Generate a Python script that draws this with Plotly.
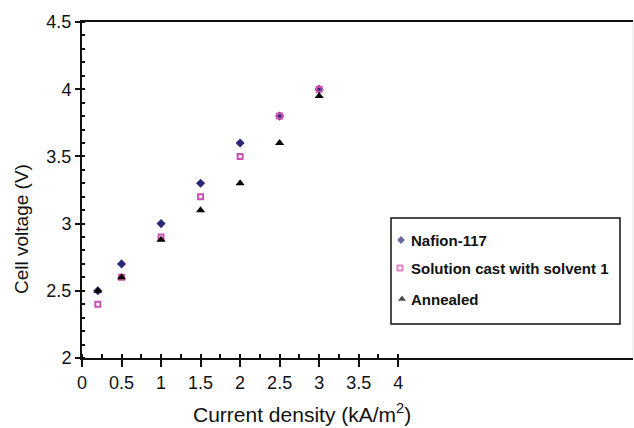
import plotly.graph_objects as go

# Current density (kA/m^2) and measured cell voltage (V)
current_density = [0.2, 0.5, 1.0, 1.5, 2.0, 2.5, 3.0]
nafion_117 = [2.5, 2.7, 3.0, 3.3, 3.6, 3.8, 4.0]
solution_cast = [2.4, 2.6, 2.9, 3.2, 3.5, 3.8, 4.0]
annealed = [2.5, 2.6, 2.88, 3.1, 3.3, 3.6, 3.95]

x_ticks = [0, 0.5, 1, 1.5, 2, 2.5, 3, 3.5, 4]
x_tick_labels = ["0", "0.5", "1", "1.5", "2", "2.5", "3", "3.5", "4"]
x_minor = [i * 0.25 for i in range(17)]
y_ticks = [2, 2.5, 3, 3.5, 4, 4.5]
y_tick_labels = ["2", "2.5", "3", "3.5", "4", "4.5"]

series_names = ["Nafion-117", "Solution cast with solvent 1", "Annealed"]
series_values = [nafion_117, solution_cast, annealed]
series_colors = ["#2a2877", "#cf4fb4", "#000000"]
series_symbols = ["diamond", "square-open", "triangle-up"]
series_sizes = [7, 5, 8]

W, H = 634, 428
L, R, T, B = 82, 1, 22, 70
PW, PH = W - L - R, H - T - B

FONT = "Liberation Sans, Arial, sans-serif"

fig = go.Figure()
for name, vals, col, sym, sz in zip(series_names, series_values, series_colors,
                                    series_symbols, series_sizes):
    fig.add_trace(go.Scatter(
        x=current_density, y=vals, mode="markers", name=name,
        marker=dict(symbol=sym, size=sz, color=col,
                    line=dict(width=2 if sym.endswith("open") else 0, color=col)),
        showlegend=False, cliponaxis=False,
    ))

# Key box drawn in a pixel-based overlay axis pair
key_left, key_right, key_top, key_bottom = 391, 620, 218, 324
key_rows = [240, 268, 299]
fig.add_trace(go.Scatter(
    x=[401, 400, 402], y=key_rows, xaxis="x2", yaxis="y2", mode="markers",
    marker=dict(symbol=series_symbols, size=[6, 5, 7], color=series_colors,
                line=dict(width=[0, 2, 0], color=series_colors)),
    showlegend=False, hoverinfo="skip", cliponaxis=False,
))
fig.add_shape(type="rect", xref="x2", yref="y2", x0=key_left, x1=key_right,
              y0=key_top, y1=key_bottom, line=dict(color="#111", width=1.5))
for name, yy in zip(series_names, key_rows):
    fig.add_annotation(x=409, y=yy, xref="x2", yref="y2", text="<b>%s</b>" % name,
                       showarrow=False, xanchor="left", yanchor="middle",
                       font=dict(family=FONT, size=15, color="#111"))

# Axis titles
fig.add_annotation(x=(302 - L) / PW, y=(H - B - 428) / PH, xref="paper", yref="paper",
                   text="Current density (kA/m<sup>2</sup>)", showarrow=False,
                   xanchor="center", yanchor="bottom",
                   font=dict(family=FONT, size=21, color="#111"))
fig.add_annotation(x=(21 - L) / PW, y=(H - B - 229) / PH, xref="paper", yref="paper",
                   text="Cell voltage (V)", showarrow=False, textangle=-90,
                   xanchor="center", yanchor="middle",
                   font=dict(family=FONT, size=19, color="#111"))

# Faint right-hand frame edge
fig.add_shape(type="line", xref="paper", yref="paper", x0=1, x1=1, y0=0, y1=1,
              line=dict(color="#e4e4e4", width=1))

fig.update_layout(
    width=W, height=H,
    margin=dict(l=L, r=R, t=T, b=B),
    paper_bgcolor="white", plot_bgcolor="white",
    showlegend=False,
    xaxis=dict(range=[0, 6.97], tickmode="array", tickvals=x_ticks,
               ticktext=x_tick_labels, ticks="outside", ticklen=7, tickwidth=1.5,
               tickcolor="#111", showgrid=False, zeroline=False,
               showline=True, linecolor="#111", linewidth=2, mirror=True,
               tickfont=dict(family=FONT, size=18, color="#111"),
               minor=dict(tickmode="array", tickvals=x_minor, ticks="inside",
                          ticklen=4, tickwidth=1.5, tickcolor="#111", showgrid=False)),
    yaxis=dict(range=[2, 4.5], tickmode="array", tickvals=y_ticks,
               ticktext=y_tick_labels, ticks="outside", ticklen=5, tickwidth=1.5,
               tickcolor="#111", showgrid=False, zeroline=False,
               showline=True, linecolor="#111", linewidth=2,
               tickfont=dict(family=FONT, size=18, color="#111"),
               minor=dict(dtick=0.1, ticks="inside", ticklen=3, tickwidth=1.5,
                          tickcolor="#111", showgrid=False)),
    xaxis2=dict(overlaying="x", range=[L, W - R], visible=False),
    yaxis2=dict(overlaying="y", range=[H - B, T], visible=False),
)

fig.write_html("out.html")
